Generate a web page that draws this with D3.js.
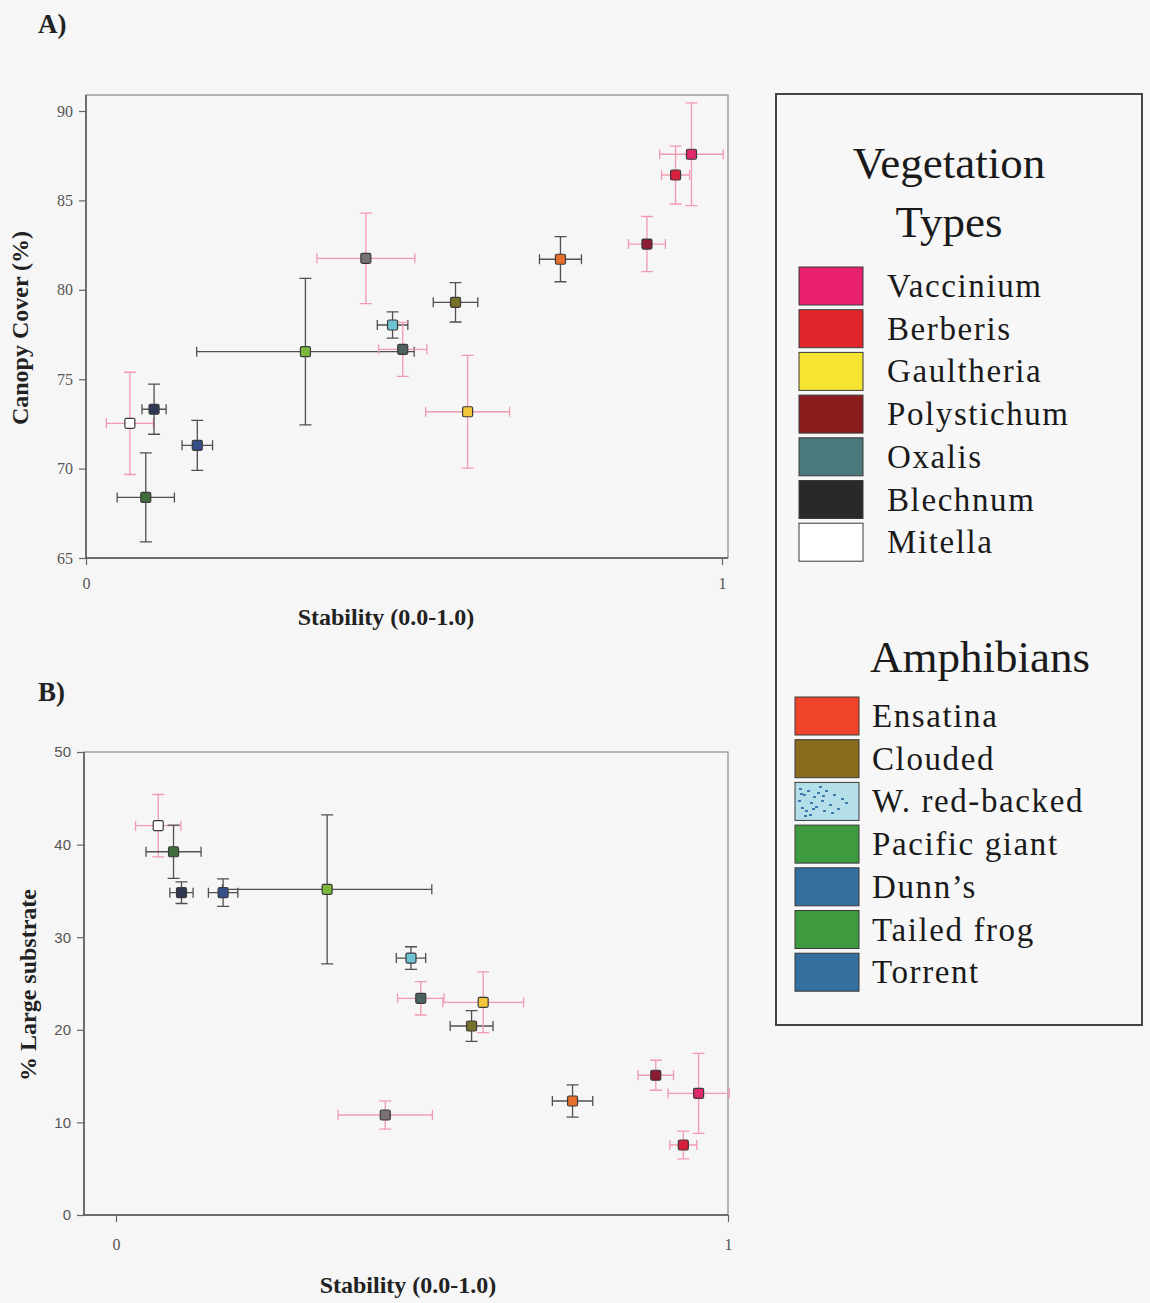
<!DOCTYPE html>
<html>
<head>
<meta charset="utf-8">
<script src="https://cdn.jsdelivr.net/npm/d3@7"></script>
<style>
  body { margin: 0; background: #f6f6f6; }
  svg { display: block; }
</style>
</head>
<body>
<svg id="fig" width="1150" height="1303"></svg>
<script>
// ---- data: one entry per taxon, ordered by stability ----
const taxa = ["Mitella", "Pacific giant", "Torrent", "Dunn\u2019s", "Tailed frog", "Blechnum",
  "W. red-backed", "Oxalis", "Clouded", "Gaultheria", "Ensatina", "Polystichum", "Berberis", "Vaccinium"];
const taxonGroup = ["veg", "amph", "amph", "amph", "amph", "veg",
  "amph", "veg", "amph", "veg", "amph", "veg", "veg", "veg"];
const stability = [0.069, 0.094, 0.107, 0.175, 0.345, 0.440, 0.482, 0.498, 0.581, 0.600, 0.746, 0.882, 0.927, 0.952];
const stabilityErr = [0.037, 0.045, 0.019, 0.024, 0.171, 0.077, 0.024, 0.038, 0.035, 0.066, 0.033, 0.029, 0.022, 0.050];
const canopyCover = [72.53, 68.39, 73.32, 71.30, 76.54, 81.76, 78.03, 76.67, 79.30, 73.18, 81.71, 82.56, 86.42, 87.58];
const canopyErr = [2.86, 2.49, 1.40, 1.40, 4.10, 2.53, 0.73, 1.51, 1.10, 3.15, 1.26, 1.54, 1.62, 2.87];
const largeSubstrate = [42.04, 39.23, 34.81, 34.81, 35.17, 10.80, 27.75, 23.40, 20.41, 22.97, 12.31, 15.09, 7.56, 13.14];
const substrateErr = [3.37, 2.88, 1.17, 1.48, 8.05, 1.53, 1.22, 1.80, 1.66, 3.28, 1.75, 1.62, 1.50, 4.32];
const markerFill = ["#ffffff", "#3f6e3c", "#2e3852", "#37508c", "#7cb83c", "#7a7272",
  "#6ec3d2", "#4f6262", "#767028", "#f2c83a", "#e8702c", "#8c1a32", "#d81f3e", "#e02a6c"];

// ---- legend entries ----
const vegetationTypes = ["Vaccinium", "Berberis", "Gaultheria", "Polystichum", "Oxalis", "Blechnum", "Mitella"];
const vegetationColors = ["#e8206e", "#e0262c", "#f5e431", "#8b1c1c", "#4a787c", "#282a2a", "#ffffff"];
const amphibianTypes = ["Ensatina", "Clouded", "W. red-backed", "Pacific giant", "Dunn\u2019s", "Tailed frog", "Torrent"];
const amphibianColors = ["#f0442a", "#8a6a1c", "url(#speckle)", "#3e9a3e", "#356fa0", "#3e9a3e", "#356fa0"];

// ---- tick values ----
const canopyTicks = [65, 70, 75, 80, 85, 90];
const substrateTicks = [0, 10, 20, 30, 40, 50];
const stabilityTicks = [0, 1];

const svg = d3.select("#fig");
const serif = "'Liberation Serif', 'Times New Roman', serif";
const sans = "'Liberation Sans', Arial, sans-serif";

// speckled light-blue fill for the W. red-backed swatch
const defs = svg.append("defs");
const pat = defs.append("pattern").attr("id", "speckle").attr("patternUnits", "userSpaceOnUse")
  .attr("width", 64).attr("height", 38).attr("x", 795).attr("y", 782);
pat.append("rect").attr("width", 64).attr("height", 38).attr("fill", "#b4dfea");
const specks = [[4,6],[8,12],[3,18],[12,8],[15,20],[6,25],[10,28],[18,14],[22,10],[20,24],[26,18],[14,32],
  [30,8],[34,22],[28,28],[38,12],[42,26],[46,16],[24,4],[9,33],[36,30],[50,20],[17,26],[5,11],[27,13]];
pat.selectAll("rect.s").data(specks).join("rect").attr("class", "s")
  .attr("x", d => d[0]).attr("y", d => d[1]).attr("width", 3).attr("height", 2).attr("fill", "#3b78ad");

function drawPanel(cfg) {
  const g = svg.append("g");
  const [fx0, fy0, fx1, fy1] = cfg.frame;
  const x = d3.scaleLinear().domain([0, 1]).range(cfg.xRange);
  const y = d3.scaleLinear().domain(cfg.yDomain).range(cfg.yRange);

  // plot frame
  g.append("rect").attr("x", fx0).attr("y", fy0).attr("width", fx1 - fx0).attr("height", fy1 - fy0)
    .attr("fill", "none").attr("stroke", "#8a8a8a").attr("stroke-width", 1.2);
  g.append("path").attr("d", `M${fx0},${fy0}V${fy1}H${fx1}`)
    .attr("fill", "none").attr("stroke", "#555").attr("stroke-width", 1.5);

  // axes
  const yAxis = g.append("g").attr("transform", `translate(${fx0},0)`)
    .call(d3.axisLeft(y).tickValues(cfg.yTicks).tickSize(7).tickPadding(6).tickFormat(d3.format("d")));
  yAxis.select(".domain").remove();
  yAxis.selectAll("line").attr("stroke", "#666").attr("stroke-width", 1.2);
  yAxis.selectAll("text").attr("font-family", cfg.yFont).attr("font-size", cfg.yFontSize).attr("fill", "#555");

  const xAxis = g.append("g").attr("transform", `translate(0,${fy1})`)
    .call(d3.axisBottom(x).tickValues(stabilityTicks).tickSize(7).tickPadding(cfg.xPad).tickFormat(d3.format("d")));
  xAxis.select(".domain").remove();
  xAxis.selectAll("line").attr("stroke", "#666").attr("stroke-width", 1.2);
  xAxis.selectAll("text").attr("font-family", serif).attr("font-size", 16).attr("fill", "#555");

  // axis titles
  g.append("text").attr("x", cfg.xTitle[0]).attr("y", cfg.xTitle[1]).attr("text-anchor", "middle")
    .attr("font-family", serif).attr("font-weight", "bold").attr("font-size", 24).attr("fill", "#222")
    .text("Stability (0.0-1.0)");
  g.append("text").attr("transform", `translate(${cfg.yTitle[0]},${cfg.yTitle[1]}) rotate(-90)`)
    .attr("text-anchor", "middle").attr("font-family", serif).attr("font-weight", "bold")
    .attr("font-size", 24).attr("fill", "#222").text(cfg.yLabel);

  // panel letter
  g.append("text").attr("x", cfg.letter[0]).attr("y", cfg.letter[1]).attr("font-family", serif)
    .attr("font-weight", "bold").attr("font-size", 27).attr("fill", "#222").text(cfg.letterText);

  // error bars, then markers on top
  const idx = d3.range(taxa.length);
  const barColor = i => taxonGroup[i] === "veg" ? "#f29ab0" : "#505050";
  const bars = g.append("g").attr("fill", "none").attr("stroke-width", 1.3);
  idx.forEach(i => {
    const cx = x(stability[i]), cy = y(cfg.values[i]);
    const xl = x(stability[i] - stabilityErr[i]), xr = x(stability[i] + stabilityErr[i]);
    const yt = y(cfg.values[i] + cfg.errors[i]), yb = y(cfg.values[i] - cfg.errors[i]);
    const d = `M${xl},${cy}H${xr}M${xl},${cy - 5}V${cy + 5}M${xr},${cy - 5}V${cy + 5}` +
              `M${cx},${yt}V${yb}M${cx - 6},${yt}H${cx + 6}M${cx - 6},${yb}H${cx + 6}`;
    bars.append("path").attr("d", d).attr("stroke", barColor(i));
  });
  g.append("g").selectAll("rect").data(idx).join("rect")
    .attr("x", i => x(stability[i]) - 5).attr("y", i => y(cfg.values[i]) - 5)
    .attr("width", 10).attr("height", 10).attr("rx", 1.5)
    .attr("fill", i => markerFill[i]).attr("stroke", "#3a3a3a").attr("stroke-width", 1.2);
}

// Panel A: canopy cover against stability
drawPanel({
  frame: [86, 95, 728, 558], xRange: [86, 722], yDomain: [65, 90], yRange: [558, 111],
  yTicks: canopyTicks, values: canopyCover, errors: canopyErr, yFont: serif, yFontSize: 16, xPad: 13,
  yLabel: "Canopy Cover (%)", yTitle: [28, 328], xTitle: [386, 625],
  letter: [38, 33], letterText: "A)"
});

// Panel B: large substrate against stability
drawPanel({
  frame: [84, 752, 728, 1215], xRange: [116, 728], yDomain: [0, 50], yRange: [1215, 752],
  yTicks: substrateTicks, values: largeSubstrate, errors: substrateErr, yFont: sans, yFontSize: 15, xPad: 17,
  yLabel: "% Large substrate", yTitle: [36, 985], xTitle: [408, 1293],
  letter: [38, 701], letterText: "B)"
});

// ---- legend ----
const lg = svg.append("g");
lg.append("rect").attr("x", 776).attr("y", 94).attr("width", 366).attr("height", 931)
  .attr("fill", "#f7f7f7").attr("stroke", "#444").attr("stroke-width", 2);

function legendTitle(lines, cx, baselines) {
  lines.forEach((t, k) => {
    lg.append("text").attr("x", cx).attr("y", baselines[k]).attr("text-anchor", "middle")
      .attr("font-family", serif).attr("font-size", 45).attr("fill", "#1a1a1a").text(t);
  });
}
function legendItems(names, colors, sx, tx, top) {
  const pitch = 42.7;
  names.forEach((n, k) => {
    const yy = top + k * pitch;
    lg.append("rect").attr("x", sx).attr("y", yy).attr("width", 64).attr("height", 38)
      .attr("fill", colors[k]).attr("stroke", "#3a3a3a").attr("stroke-width", 1);
    lg.append("text").attr("x", tx).attr("y", yy + 30).attr("font-family", serif)
      .attr("font-size", 33).attr("letter-spacing", 1.6).attr("fill", "#1a1a1a").text(n);
  });
}
legendTitle(["Vegetation", "Types"], 949, [178, 237]);
legendItems(vegetationTypes, vegetationColors, 799, 887, 267);
legendTitle(["Amphibians"], 980, [672]);
legendItems(amphibianTypes, amphibianColors, 795, 872, 697);
</script>
</body>
</html>
